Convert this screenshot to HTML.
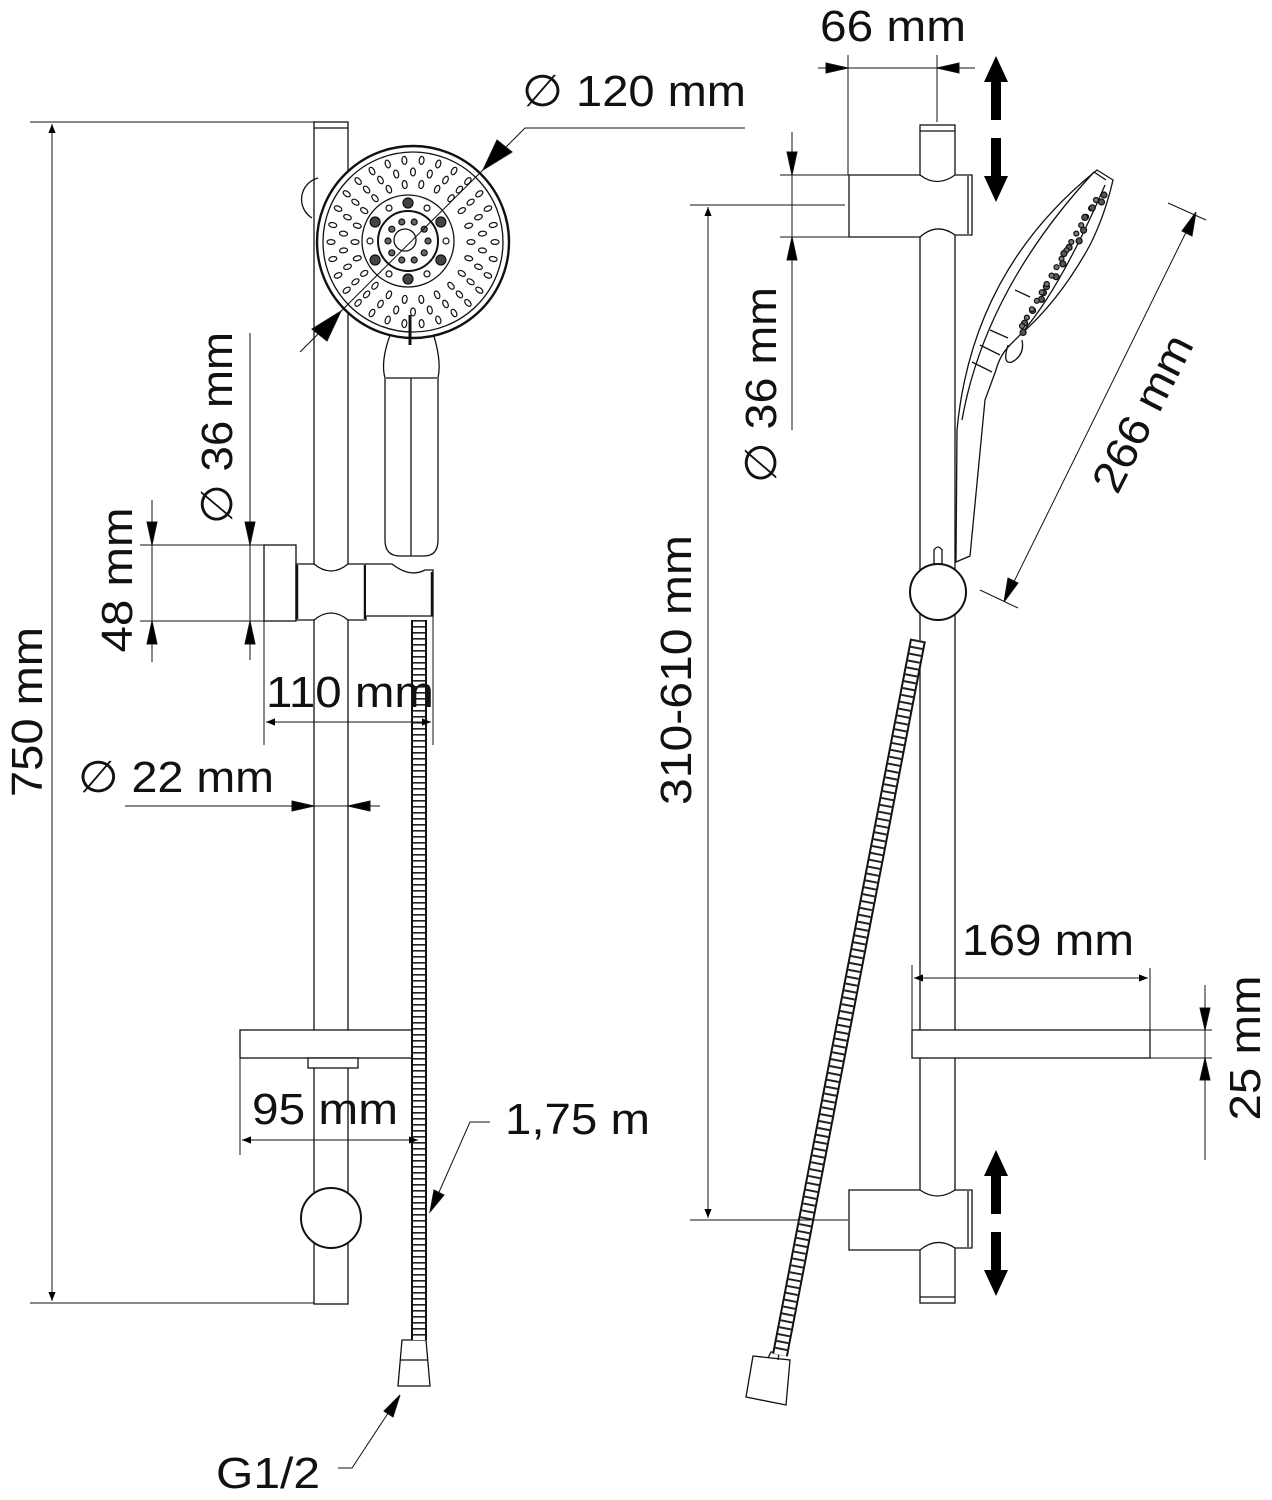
<!DOCTYPE html>
<html><head><meta charset="utf-8"><style>
html,body{margin:0;padding:0;background:#fff}
svg{display:block}
text{font-family:"Liberation Sans",sans-serif;fill:#111}
</style></head><body>
<svg id="s" width="1272" height="1500" viewBox="0 0 1272 1500" xmlns="http://www.w3.org/2000/svg">
<defs>
<marker id="a" viewBox="0 0 10 10" refX="10" refY="5" markerWidth="14" markerHeight="9" markerUnits="userSpaceOnUse" orient="auto-start-reverse"><path d="M0,1 L10,5 L0,9 Z" fill="#000"/></marker>
</defs>
<g fill="none" stroke="#111" stroke-width="1.3">
<rect x="314" y="122" width="34" height="1182" fill="#fff"/>
<line x1="314" y1="128" x2="348" y2="128"/>
<path d="M318,178 A22,22 0 0 0 312,218"/>
<path d="M392,330 Q380,360 385,378 L385,540 Q385,556 400,556 L424,556 Q438,556 438,540 L438,378 Q442,360 432,330" fill="#fff"/>
<line x1="386" y1="378" x2="437" y2="378"/>
<line x1="411" y1="378" x2="411" y2="556"/>
<circle cx="413" cy="242" r="96" fill="#fff" stroke-width="2.4"/>
<circle cx="413" cy="242" r="90"/>
<circle cx="408" cy="241" r="46"/>
<circle cx="408" cy="241" r="30" stroke-width="2"/>
<circle cx="405" cy="240" r="11"/>
<line x1="410" y1="315" x2="410" y2="345" stroke-width="3"/>
<rect x="264" y="545" width="32" height="76" fill="#fff"/>
<path d="M296,564 L314,564 Q331,578 348,564 L366,564 L366,620 L348,620 Q331,606 314,620 L296,620 Z" fill="#fff"/>
<line x1="297" y1="565" x2="297" y2="619" stroke-width="2.5"/>
<line x1="365" y1="565" x2="365" y2="619" stroke-width="2.5"/>
<path d="M366,564 L392,564 Q410,578 425,570 L433,570 L433,616 L366,616" fill="#fff"/>
<line x1="432" y1="572" x2="432" y2="616" stroke-width="2.5"/>
<rect x="240" y="1030" width="180" height="28" fill="#fff"/>
<rect x="308" y="1058" width="50" height="10" fill="#fff"/>
<circle cx="331" cy="1218" r="30" fill="#fff" stroke-width="2"/>
<path d="M402,1340 L426,1340 L430,1386 L398,1386 Z" fill="#fff"/>
<line x1="400" y1="1360" x2="428" y2="1360"/>

<rect x="920" y="125" width="35" height="1178" fill="#fff"/>
<line x1="920" y1="131" x2="955" y2="131"/>
<line x1="920" y1="1297" x2="955" y2="1297"/>
<path d="M849,175 L920,175 Q937,188 955,175 L972,175 L972,235 L955,235 Q937,222 920,237 L849,237 Z" fill="#fff"/>
<line x1="968" y1="176" x2="968" y2="234"/>
<path d="M849,1190 L920,1190 Q937,1202 955,1190 L972,1190 L972,1248 L955,1248 Q937,1236 920,1250 L849,1250 Z" fill="#fff"/>
<line x1="968" y1="1191" x2="968" y2="1247"/>
<!-- hand shower side -->
<path d="M956,560 L957,430 Q972,270 1097,170 L1113,180 Q1105,215 1090,245 Q1060,300 1020,335 L1010,345 Q1000,355 996,370 L985,400 L970,556 L956,562 Z" fill="#fff"/>
<path d="M962,420 Q985,290 1094,172"/>
<line x1="1094" y1="172" x2="1106" y2="180"/>
<path d="M1020,335 Q1060,290 1105,185"/>
<path d="M1008,345 Q1002,365 1012,362 Q1025,355 1022,340"/>
<line x1="972" y1="362" x2="992" y2="372"/>
<line x1="980" y1="345" x2="1000" y2="355"/>
<line x1="990" y1="330" x2="1008" y2="338"/>
<line x1="1015" y1="290" x2="1030" y2="297"/>
<circle cx="938" cy="592" r="28" fill="#fff" stroke-width="2"/>
<path d="M934,565 L934,550 Q938,544 942,550 L942,565"/>
<rect x="912" y="1030" width="238" height="28" fill="#fff"/>
<path d="M753,1356 L790,1360 L786,1405 L746,1397 Z" fill="#fff"/>
<path d="M768,1358 L771,1352 L779,1353 L778,1360"/>
</g>

<g fill="none">
<line x1="419" y1="620" x2="419" y2="1340" stroke="#111" stroke-width="16"/>
<line x1="419" y1="620" x2="419" y2="1340" stroke="#fff" stroke-width="12"/>
<line x1="419" y1="620" x2="419" y2="1340" stroke="#222" stroke-width="12" stroke-dasharray="1.6 4.4"/>
<line x1="918" y1="640" x2="780" y2="1355" stroke="#111" stroke-width="16"/>
<line x1="918" y1="640" x2="780" y2="1355" stroke="#fff" stroke-width="12"/>
<line x1="918" y1="640" x2="780" y2="1355" stroke="#222" stroke-width="12" stroke-dasharray="2 5"/>
</g>

<g id="dots" fill="#fff" stroke="#111" stroke-width="1.2"></g>

<g fill="none" stroke="#111" stroke-width="1">
<line x1="30" y1="122" x2="314" y2="122"/>
<line x1="30" y1="1303" x2="314" y2="1303"/>
<line x1="52" y1="124" x2="52" y2="1301" marker-start="url(#a)" marker-end="url(#a)"/>
<polyline points="745,128 525,128 510,143"/>
<line x1="510" y1="143" x2="300" y2="352"/>
<path d="M483,170 L497,140 L512,152 Z" fill="#000"/>
<path d="M341,311 L327,341 L312,329 Z" fill="#000"/>
<line x1="250" y1="333" x2="250" y2="660"/>
<path d="M250,545 L245,522 L255,522 Z" fill="#000"/>
<path d="M250,621 L245,644 L255,644 Z" fill="#000"/>
<line x1="140" y1="545" x2="296" y2="545"/>
<line x1="140" y1="621" x2="264" y2="621"/>
<line x1="152" y1="500" x2="152" y2="662"/>
<path d="M152,545 L147,522 L157,522 Z" fill="#000"/>
<path d="M152,621 L147,644 L157,644 Z" fill="#000"/>
<line x1="264" y1="621" x2="264" y2="745"/>
<line x1="433" y1="616" x2="433" y2="745"/>
<line x1="266" y1="722" x2="431" y2="722" marker-start="url(#a)" marker-end="url(#a)"/>
<line x1="125" y1="806" x2="380" y2="806"/>
<path d="M314,806 L292,801 L292,811 Z" fill="#000"/>
<path d="M348,806 L370,801 L370,811 Z" fill="#000"/>
<line x1="240" y1="1058" x2="240" y2="1155"/>
<line x1="242" y1="1140" x2="418" y2="1140" marker-start="url(#a)" marker-end="url(#a)"/>
<polyline points="490,1122 470,1122 432,1208"/>
<path d="M430,1212 L434,1190 L444,1195 Z" fill="#000"/>
<polyline points="338,1468 352,1468 398,1398"/>
<path d="M400,1395 L393,1417 L384,1411 Z" fill="#000"/>
<line x1="848" y1="55" x2="848" y2="175"/>
<line x1="937" y1="55" x2="937" y2="122"/>
<line x1="818" y1="68" x2="975" y2="68"/>
<path d="M848,68 L826,63 L826,73 Z" fill="#000"/>
<path d="M937,68 L959,63 L959,73 Z" fill="#000"/>
<line x1="780" y1="175" x2="849" y2="175"/>
<line x1="780" y1="237" x2="849" y2="237"/>
<line x1="810" y1="205" x2="845" y2="205"/>
<line x1="792" y1="132" x2="792" y2="430"/>
<path d="M792,175 L787,152 L797,152 Z" fill="#000"/>
<path d="M792,237 L787,260 L797,260 Z" fill="#000"/>
<line x1="690" y1="205" x2="845" y2="205"/>
<line x1="690" y1="1220" x2="848" y2="1220"/>
<line x1="708" y1="207" x2="708" y2="1218" marker-start="url(#a)" marker-end="url(#a)"/>
<line x1="1168" y1="203" x2="1206" y2="220"/>
<line x1="980" y1="590" x2="1018" y2="608"/>
<line x1="1195" y1="214" x2="1005" y2="600"/>
<path d="M1196,212 L1192,236 L1182,231 Z" fill="#000"/>
<path d="M1004,602 L1008,578 L1018,583 Z" fill="#000"/>
<line x1="912" y1="965" x2="912" y2="1040"/>
<line x1="1150" y1="968" x2="1150" y2="1030"/>
<line x1="914" y1="978" x2="1148" y2="978" marker-start="url(#a)" marker-end="url(#a)"/>
<line x1="1150" y1="1030" x2="1212" y2="1030"/>
<line x1="1150" y1="1058" x2="1212" y2="1058"/>
<line x1="1205" y1="985" x2="1205" y2="1160"/>
<path d="M1205,1030 L1200,1008 L1210,1008 Z" fill="#000"/>
<path d="M1205,1058 L1200,1080 L1210,1080 Z" fill="#000"/>
</g>

<g fill="#000">
<path d="M996,56 L1008,82 L1001,82 L1001,120 L991,120 L991,82 L984,82 Z"/>
<path d="M996,202 L1008,176 L1001,176 L1001,138 L991,138 L991,176 L984,176 Z"/>
<path d="M996,1150 L1008,1176 L1001,1176 L1001,1214 L991,1214 L991,1176 L984,1176 Z"/>
<path d="M996,1296 L1008,1270 L1001,1270 L1001,1232 L991,1232 L991,1270 L984,1270 Z"/>
</g>

<g font-size="44">
<text x="820" y="41" textLength="146" lengthAdjust="spacingAndGlyphs">66 mm</text>
<text x="522" y="106" textLength="224" lengthAdjust="spacingAndGlyphs">∅ 120 mm</text>
<text transform="translate(42,712) rotate(-90)" text-anchor="middle" textLength="170" lengthAdjust="spacingAndGlyphs">750 mm</text>
<text transform="translate(232,428) rotate(-90)" text-anchor="middle" textLength="192" lengthAdjust="spacingAndGlyphs">∅ 36 mm</text>
<text transform="translate(132,580) rotate(-90)" text-anchor="middle" textLength="145" lengthAdjust="spacingAndGlyphs">48 mm</text>
<text x="266" y="707" textLength="168" lengthAdjust="spacingAndGlyphs">110 mm</text>
<text x="78" y="792" textLength="196" lengthAdjust="spacingAndGlyphs">∅ 22 mm</text>
<text x="252" y="1124" textLength="146" lengthAdjust="spacingAndGlyphs">95 mm</text>
<text x="505" y="1134" textLength="145" lengthAdjust="spacingAndGlyphs">1,75 m</text>
<text x="216" y="1488" textLength="104" lengthAdjust="spacingAndGlyphs">G1/2</text>
<text transform="translate(776,385) rotate(-90)" text-anchor="middle" textLength="196" lengthAdjust="spacingAndGlyphs">∅ 36 mm</text>
<text transform="translate(691,670) rotate(-90)" text-anchor="middle" textLength="270" lengthAdjust="spacingAndGlyphs">310-610 mm</text>
<text transform="translate(1156,420) rotate(-63)" text-anchor="middle" textLength="170" lengthAdjust="spacingAndGlyphs">266 mm</text>
<text x="962" y="955" textLength="172" lengthAdjust="spacingAndGlyphs">169 mm</text>
<text transform="translate(1260,1048) rotate(-90)" text-anchor="middle" textLength="145" lengthAdjust="spacingAndGlyphs">25 mm</text>
</g>
</svg>
<script>
(function(){
var g=document.getElementById('dots'),ns='http://www.w3.org/2000/svg';
function e(cx,cy,rx,ry,ang,fill){var el=document.createElementNS(ns,'ellipse');el.setAttribute('cx',cx.toFixed(1));el.setAttribute('cy',cy.toFixed(1));el.setAttribute('rx',rx);el.setAttribute('ry',ry);el.setAttribute('transform','rotate('+ang+' '+cx.toFixed(1)+' '+cy.toFixed(1)+')');if(fill)el.setAttribute('fill',fill);g.appendChild(el);}
var cx=413,cy=242;
[[82,30],[70,26],[58,22]].forEach(function(r,k){for(var i=0;i<r[1];i++){var a=(i+(k%2)*0.5)/r[1]*2*Math.PI;e(cx+r[0]*Math.cos(a),cy+r[0]*Math.sin(a),2.4,4,a*180/Math.PI+90);}});
for(var i=0;i<12;i++){var a=i/12*2*Math.PI;e(408+38*Math.cos(a),241+38*Math.sin(a),i%2?5:3,i%2?5:3,0,i%2?'#444':'#fff');}
for(var i=0;i<10;i++){var a=i/10*2*Math.PI;e(408+20*Math.cos(a),241+20*Math.sin(a),3,3,0,'#666');}
for(var i=0;i<16;i++){var t=i/15;e(1104-t*82+Math.sin(i*1.7)*3,192+t*138+Math.cos(i*1.3)*3,3,3,0,'#555');e(1096-t*74,200+t*126,2.5,2.5,0,'#777');}
})();
</script>
</body></html>
